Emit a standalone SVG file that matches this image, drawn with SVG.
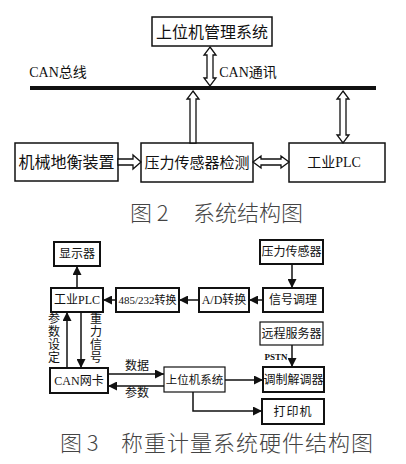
<svg xmlns="http://www.w3.org/2000/svg" width="406" height="464" viewBox="0 0 406 464">
<style>
text{font-family:"Liberation Serif","Noto Sans CJK SC",serif;fill:#111;text-anchor:middle}
.b1{fill:#fff;stroke:#111;stroke-width:1.5}
.b2{fill:#fff;stroke:#111;stroke-width:2}
.b3{fill:#fff;stroke:#111;stroke-width:1.2}
.ho{fill:#fff;stroke:#111;stroke-width:1.3;stroke-linejoin:miter}
.ln{fill:none;stroke:#111;stroke-width:1.5}
.t16{font-size:16px}
.t14{font-size:14px}
.t12{font-size:12px}
.t11{font-size:11.5px}
.cap{font-size:22px;fill:#444;font-weight:300;font-family:"Noto Sans CJK SC",sans-serif;text-anchor:start}
</style>
<defs>
<marker id="a" viewBox="0 0 10 10" refX="10" refY="5" markerWidth="9" markerHeight="9" markerUnits="userSpaceOnUse" orient="auto">
<path d="M0,0 L10,5 L0,10 z" fill="#111"/>
</marker>
</defs>

<!-- Figure 2 -->
<g id="bus">
<line x1="30" y1="88" x2="376" y2="88" stroke="#111" stroke-width="4"/>
<text class="t14" x="58" y="77">CAN总线</text>
</g>
<g id="n_host_mgmt">
<rect class="b1" x="152" y="17" width="120" height="29"/>
<text class="t16" x="212" y="38">上位机管理系统</text>
</g>
<g id="n_mech">
<rect class="b1" x="15" y="143" width="103" height="38"/>
<text class="t16" x="66.5" y="168">机械地衡装置</text>
</g>
<g id="n_sensor_det">
<rect class="b1" x="141" y="143" width="112" height="39"/>
<text class="t16" x="197" y="168" style="font-size:15px">压力传感器检测</text>
</g>
<g id="n_plc_top">
<rect class="b1" x="289" y="143" width="96" height="39"/>
<text class="t14" x="334" y="167">工业PLC</text>
</g>
<g id="connectors_fig2">
<polygon class="ho" points="210,47 216,55 213,55 213,78 216,78 210,86 204,78 207,78 207,55 204,55"/>
<text class="t14" x="248" y="77">CAN通讯</text>
<polygon class="ho" points="193,91 199,99 196,99 196,143 190,143 190,99 187,99"/>
<polygon class="ho" points="343,91 349,99 346,99 346,135 349,135 343,143 337,135 340,135 340,99 337,99"/>
<polygon class="ho" points="118,159 133,159 133,155 141,162 133,169 133,165 118,165"/>
<polygon class="ho" points="253,162 261,156 261,159 281,159 281,156 289,162 281,168 281,165 261,165 261,168"/>
</g>
<text class="cap" x="130" y="221">图 2</text>
<text class="cap" x="193" y="221">系统结构图</text>

<!-- Figure 3 -->
<g id="n_display">
<rect class="b2" x="54" y="242" width="46" height="24"/>
<text class="t12" x="77" y="258">显示器</text>
</g>
<g id="n_psensor">
<rect class="b2" x="260" y="240" width="63" height="24"/>
<text class="t12" x="291.5" y="256">压力传感器</text>
</g>
<g id="n_plc">
<rect class="b2" x="51" y="288" width="52" height="24"/>
<text class="t12" x="77" y="304">工业PLC</text>
</g>
<g id="n_485">
<rect class="b2" x="116" y="288" width="63" height="24"/>
<text class="t11" x="147.5" y="304" style="font-size:11px">485/232转换</text>
</g>
<g id="n_ad">
<rect class="b2" x="199" y="288" width="50" height="24"/>
<text class="t12" x="224" y="304">A/D转换</text>
</g>
<g id="n_signal">
<rect class="b2" x="263" y="288" width="60" height="24"/>
<text class="t12" x="293" y="304">信号调理</text>
</g>
<g id="n_remote">
<rect class="b3" x="260" y="322" width="63" height="23"/>
<text class="t12" x="291.5" y="338">远程服务器</text>
</g>
<g id="n_can_card">
<rect class="b2" x="50" y="368" width="58" height="25"/>
<text class="t12" x="79" y="385">CAN网卡</text>
</g>
<g id="n_host">
<rect class="b3" x="164" y="367" width="61" height="25"/>
<text class="t11" x="194.5" y="384">上位机系统</text>
</g>
<g id="n_modem">
<rect class="b2" x="263" y="367" width="61" height="25"/>
<text class="t12" x="293.5" y="384">调制解调器</text>
</g>
<g id="n_printer">
<rect class="b2" x="262" y="399" width="62" height="25"/>
<text class="t12" x="293" y="416" style="letter-spacing:1px">打印机</text>
</g>
<g id="connectors_fig3">
<line class="ln" x1="77" y1="288" x2="77" y2="266" marker-end="url(#a)"/>
<line class="ln" x1="116" y1="300" x2="103" y2="300" marker-end="url(#a)"/>
<line class="ln" x1="199" y1="300" x2="179" y2="300" marker-end="url(#a)"/>
<line class="ln" x1="263" y1="300" x2="249" y2="300" marker-end="url(#a)"/>
<line class="ln" x1="292" y1="264" x2="292" y2="288" marker-end="url(#a)"/>
<line class="ln" x1="292" y1="345" x2="292" y2="367" marker-end="url(#a)"/>
<line class="ln" x1="67" y1="368" x2="67" y2="312" marker-end="url(#a)"/>
<line class="ln" x1="81" y1="312" x2="81" y2="368" marker-end="url(#a)"/>
<line class="ln" x1="108" y1="374" x2="164" y2="374" marker-end="url(#a)"/>
<line class="ln" x1="164" y1="386" x2="108" y2="386" marker-end="url(#a)"/>
<line class="ln" x1="225" y1="380" x2="263" y2="380" marker-end="url(#a)"/>
<path class="ln" d="M193,392 V411 H262" marker-end="url(#a)"/>
<text class="t12" x="54" y="323">参</text>
<text class="t12" x="54" y="336">数</text>
<text class="t12" x="54" y="349">设</text>
<text class="t12" x="54" y="362">定</text>
<text class="t12" x="96" y="323">重</text>
<text class="t12" x="96" y="336">力</text>
<text class="t12" x="96" y="349">信</text>
<text class="t12" x="96" y="362">号</text>
<text class="t12" x="137" y="370">数据</text>
<text class="t12" x="137" y="397">参数</text>
<text x="276" y="360" style="font-size:9px;font-weight:bold">PSTN</text>
</g>
<text class="cap" x="60" y="451">图 3</text>
<text class="cap" x="121" y="451" style="letter-spacing:1px">称重计量系统硬件结构图</text>
</svg>
